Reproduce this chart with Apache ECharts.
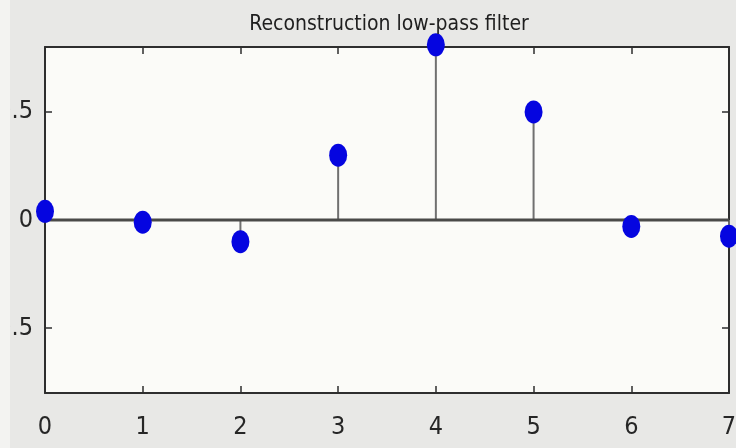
<!DOCTYPE html>
<html>
<head>
<meta charset="utf-8">
<script src="https://cdn.jsdelivr.net/npm/echarts@6/dist/echarts.min.js"></script>
<style>
  html, body { margin: 0; padding: 0; background: #e8e8e6; }
  #chart { width: 736px; height: 448px; }
</style>
</head>
<body>
<div id="chart"></div>
<script>
// Impulse response samples h[n] of the reconstruction low-pass filter
const sampleIndex = [0, 1, 2, 3, 4, 5, 6, 7];
const responseValues = [0.04, -0.01, -0.10, 0.30, 0.81, 0.50, -0.03, -0.075];
const xTickValues = [0, 1, 2, 3, 4, 5, 6, 7];
const yTickValues = [-0.5, 0, 0.5];
const titleText = 'Reconstruction low-pass filter';

const FONT = '"Liberation Sans Narrow", "DejaVu Sans Condensed", "Liberation Sans", sans-serif';
const points = sampleIndex.map((n, i) => [n, responseValues[i]]);

const frameLine = { show: true, onZero: false, lineStyle: { color: '#2e2e2e', width: 2 } };
const innerTick = (vals) => ({ show: true, inside: true, length: 7, customValues: vals,
  lineStyle: { color: '#2e2e2e', width: 1.5 } });

const chart = echarts.init(document.getElementById('chart'), null, { renderer: 'canvas' });
chart.setOption({
  backgroundColor: '#e8e8e6',
  animation: false,
  title: {
    text: titleText, left: 384, top: 9, textAlign: 'center',
    textStyle: { fontFamily: FONT, fontSize: 21, fontWeight: 'normal', color: '#1e1e1e' }
  },
  grid: { left: 45, right: 7, top: 47, bottom: 55, outerBoundsMode: 'none', containLabel: false,
    show: true, backgroundColor: '#fbfbf8', borderWidth: 0 },
  xAxis: [
    { type: 'value', position: 'bottom', min: 0, max: 7, interval: 1,
      axisLine: frameLine, axisTick: innerTick(xTickValues), splitLine: { show: false },
      axisLabel: { customValues: xTickValues, margin: 22, fontFamily: FONT, fontSize: 25, color: '#262626' } },
    { type: 'value', position: 'top', min: 0, max: 7, interval: 1,
      axisLine: frameLine, axisTick: innerTick(xTickValues), splitLine: { show: false },
      axisLabel: { show: false } }
  ],
  yAxis: [
    { type: 'value', position: 'left', min: -0.8, max: 0.8,
      axisLine: frameLine, axisTick: innerTick(yTickValues), splitLine: { show: false },
      axisLabel: { customValues: yTickValues, margin: 12, fontFamily: FONT, fontSize: 25, color: '#262626',
        formatter: v => (v === 0 ? '0' : String(v)) } },
    { type: 'value', position: 'right', min: -0.8, max: 0.8,
      axisLine: frameLine, axisTick: innerTick(yTickValues), splitLine: { show: false },
      axisLabel: { show: false } }
  ],
  series: [
    {
      // stems from the baseline to each sample
      type: 'custom',
      xAxisIndex: 0, yAxisIndex: 0,
      clip: false,
      data: points,
      renderItem: (params, api) => {
        const base = api.coord([api.value(0), 0]);
        const tip = api.coord([api.value(0), api.value(1)]);
        return {
          type: 'line',
          shape: { x1: base[0], y1: base[1], x2: tip[0], y2: tip[1] },
          style: { stroke: '#707070', lineWidth: 2 }
        };
      },
      z: 2
    },
    {
      // baseline at zero
      type: 'line',
      xAxisIndex: 0, yAxisIndex: 0,
      data: [[0, 0], [7, 0]],
      symbol: 'none',
      lineStyle: { color: '#4a4a48', width: 3 },
      z: 3
    },
    {
      type: 'scatter',
      xAxisIndex: 0, yAxisIndex: 0,
      clip: false,
      data: points,
      symbol: 'circle',
      symbolSize: [18, 23],
      itemStyle: { color: '#0505e0', opacity: 1 },
      z: 5
    }
  ],
  graphic: [
    { type: 'rect', left: 0, top: 0, z: 100, shape: { width: 10, height: 448 }, style: { fill: '#f3f3f1' } }
  ]
});
</script>
</body>
</html>
